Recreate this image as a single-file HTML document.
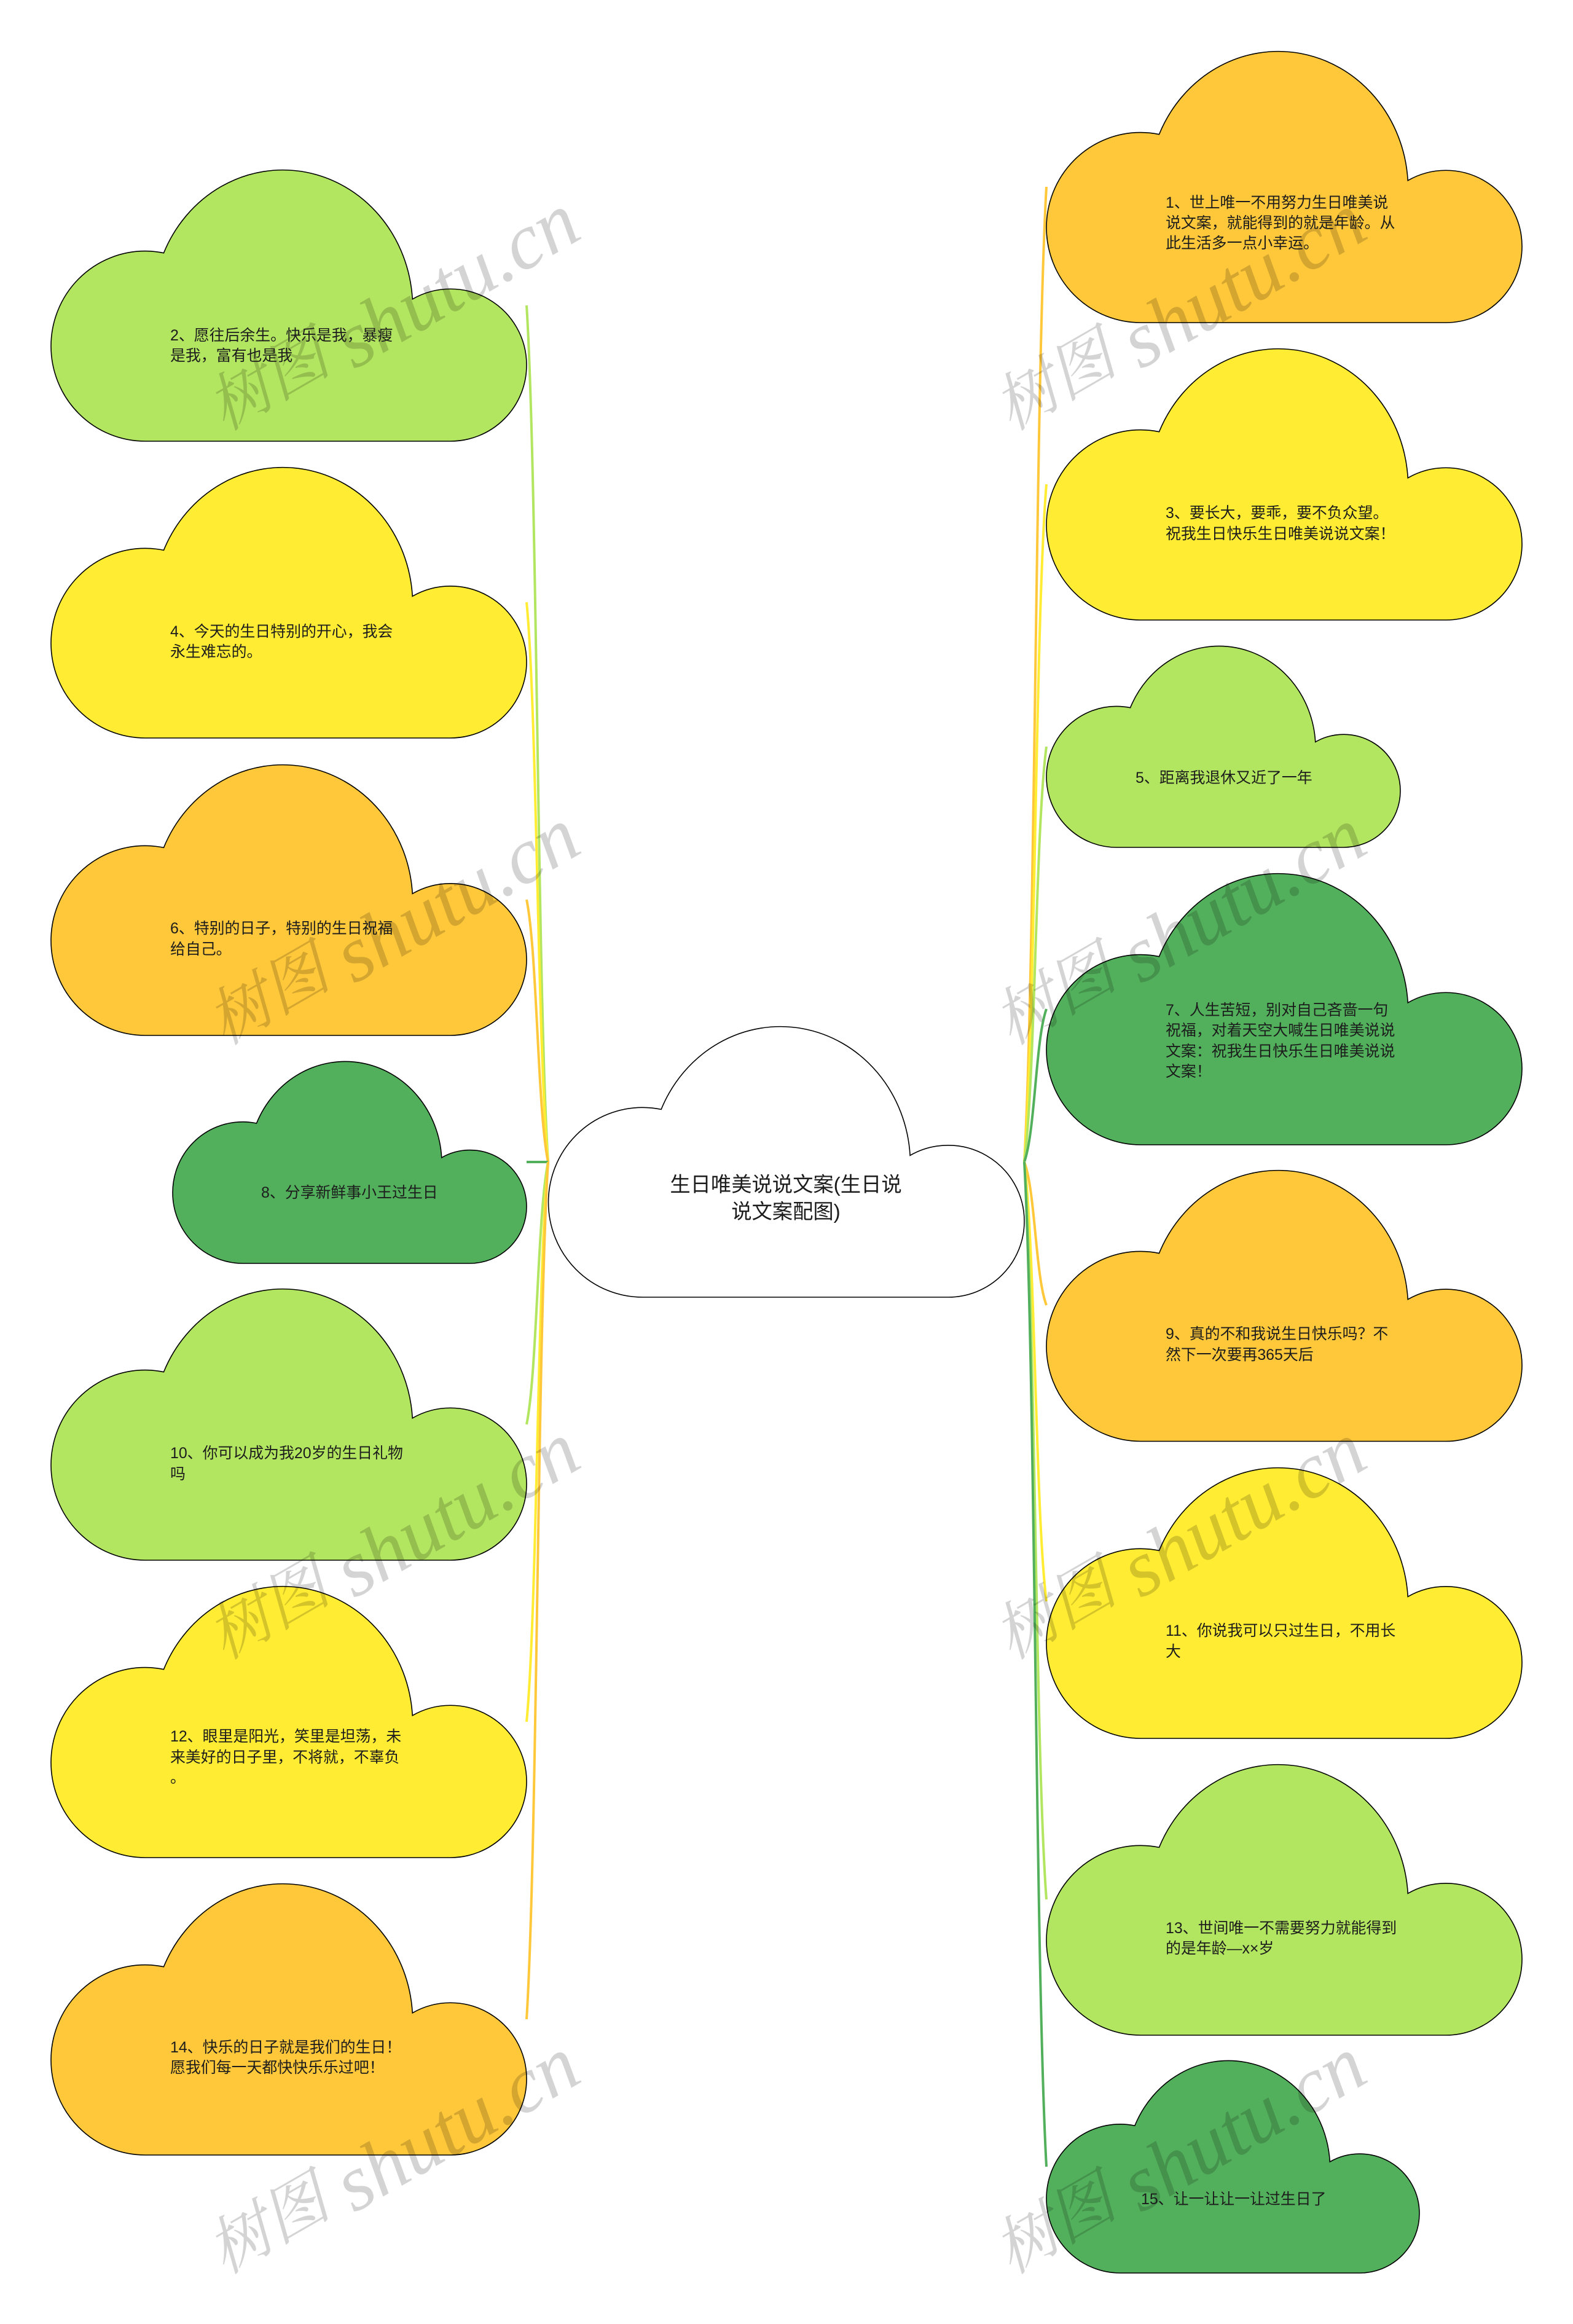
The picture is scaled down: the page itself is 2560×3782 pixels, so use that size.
<!DOCTYPE html>
<html lang="zh-CN">
<head>
<meta charset="utf-8">
<title>生日唯美说说文案(生日说说文案配图)</title>
<style>
html,body{margin:0;padding:0;background:#fff;width:2560px;height:3782px;overflow:hidden}
svg{display:block}
.n{vector-effect:non-scaling-stroke;stroke:#000;stroke-width:1.6}
.t{font-family:"Liberation Sans","Noto Sans CJK SC",sans-serif;font-size:24.9px;fill:#1c1c1c}
.r{font-family:"Liberation Sans","Noto Sans CJK SC",sans-serif;font-size:33.3px;fill:#1c1c1c;text-anchor:middle}
.l{fill:none;stroke-width:4}
.wa{font-family:"Liberation Serif","Noto Serif CJK SC",serif;font-size:102px;font-style:italic;fill:#000;fill-opacity:.17}
.wb{font-family:"Liberation Serif",serif;font-size:129px;font-style:italic;fill:#000;fill-opacity:.17}
</style>
</head>
<body>
<svg xmlns="http://www.w3.org/2000/svg" width="2560" height="3782" viewBox="0 0 2560 3782">
<rect width="2560" height="3782" fill="#fff"/>

<!-- connectors -->
<g class="l">
<path class="l" stroke="#B2E660" d="M892 1891C874.5 1612 874.5 776 857 497"/>
<path class="l" stroke="#FFEC33" d="M892 1891C874.5 1709 874.5 1162 857 980"/>
<path class="l" stroke="#FFC83A" d="M892 1891C874.5 1806 874.5 1549 857 1464"/>
<path class="l" stroke="#52B05C" d="M892 1891L857 1891"/>
<path class="l" stroke="#B2E660" d="M892 1891C874.5 1976 874.5 2233 857 2318"/>
<path class="l" stroke="#FFEC33" d="M892 1891C874.5 2073 874.5 2620 857 2802"/>
<path class="l" stroke="#FFC83A" d="M892 1891C874.5 2170 874.5 3007 857 3286"/>

<path class="l" stroke="#FFC83A" d="M1667 1891C1685 1574 1685 621 1703 304"/>
<path class="l" stroke="#FFEC33" d="M1667 1891C1685 1670 1685 1009 1703 788"/>
<path class="l" stroke="#B2E660" d="M1667 1891C1685 1756 1685 1350 1703 1215"/>
<path class="l" stroke="#52B05C" d="M1667 1891C1685 1841 1685 1692 1703 1642"/>
<path class="l" stroke="#FFC83A" d="M1667 1891C1685 1938 1685 2077 1703 2124"/>
<path class="l" stroke="#FFEC33" d="M1667 1891C1685 2034 1685 2463 1703 2606"/>
<path class="l" stroke="#B2E660" d="M1667 1891C1685 2131 1685 2851 1703 3091"/>
<path class="l" stroke="#52B05C" d="M1667 1891C1685 2218 1685 3199 1703 3526"/>
</g>

<!-- clouds -->
<defs>
<path id="c" class="n" d="M.237 .307A.273 .507 0 0 1 .76 .477A.16 .28 0 0 1 1 .72A.16 .28 0 0 1 .84 1L.198 1A.198 .35 0 0 1 0 .65A.198 .35 0 0 1 .198 .3A.198 .35 0 0 1 .237 .307Z"/>
</defs>
<use href="#c" fill="#fff" transform="translate(892.5 1670) scale(774.5 441)"/>

<use href="#c" fill="#B2E660" transform="translate(83 276) scale(774 442)"/>
<use href="#c" fill="#FFEC33" transform="translate(83 760) scale(774 441)"/>
<use href="#c" fill="#FFC83A" transform="translate(83 1244) scale(774 441)"/>
<use href="#c" fill="#52B05C" transform="translate(281 1727) scale(576 329)"/>
<use href="#c" fill="#B2E660" transform="translate(83 2097) scale(774 442)"/>
<use href="#c" fill="#FFEC33" transform="translate(83 2581) scale(774 442)"/>
<use href="#c" fill="#FFC83A" transform="translate(83 3065) scale(774 442)"/>

<use href="#c" fill="#FFC83A" transform="translate(1703 83) scale(774 442)"/>
<use href="#c" fill="#FFEC33" transform="translate(1703 567) scale(774 442)"/>
<use href="#c" fill="#B2E660" transform="translate(1703 1051) scale(576 328)"/>
<use href="#c" fill="#52B05C" transform="translate(1703 1421) scale(774 442)"/>
<use href="#c" fill="#FFC83A" transform="translate(1703 1904) scale(774 441.5)"/>
<use href="#c" fill="#FFEC33" transform="translate(1703 2388) scale(774 441)"/>
<use href="#c" fill="#B2E660" transform="translate(1703 2871) scale(774 441)"/>
<use href="#c" fill="#52B05C" transform="translate(1703 3353) scale(607 346)"/>

<!-- watermark -->
<text class="wa" transform="translate(365 702) rotate(-30)">树图</text>
<text class="wb" transform="translate(576 602) rotate(-30)">shutu.cn</text>
<text class="wa" transform="translate(1645 702) rotate(-30)">树图</text>
<text class="wb" transform="translate(1856 602) rotate(-30)">shutu.cn</text>
<text class="wa" transform="translate(365 1702) rotate(-30)">树图</text>
<text class="wb" transform="translate(576 1602) rotate(-30)">shutu.cn</text>
<text class="wa" transform="translate(1645 1702) rotate(-30)">树图</text>
<text class="wb" transform="translate(1856 1602) rotate(-30)">shutu.cn</text>
<text class="wa" transform="translate(365 2702) rotate(-30)">树图</text>
<text class="wb" transform="translate(576 2602) rotate(-30)">shutu.cn</text>
<text class="wa" transform="translate(1645 2702) rotate(-30)">树图</text>
<text class="wb" transform="translate(1856 2602) rotate(-30)">shutu.cn</text>
<text class="wa" transform="translate(365 3702) rotate(-30)">树图</text>
<text class="wb" transform="translate(576 3602) rotate(-30)">shutu.cn</text>
<text class="wa" transform="translate(1645 3702) rotate(-30)">树图</text>
<text class="wb" transform="translate(1856 3602) rotate(-30)">shutu.cn</text>

<!-- labels -->
<text class="r" x="1279" y="1939">生日唯美说说文案(生日说</text>
<text class="r" x="1279" y="1983">说文案配图)</text>

<text class="t" x="277" y="554">2、愿往后余生。快乐是我，暴瘦</text>
<text class="t" x="277" y="587">是我，富有也是我</text>
<text class="t" x="277" y="1036">4、今天的生日特别的开心，我会</text>
<text class="t" x="277" y="1069">永生难忘的。</text>
<text class="t" x="277" y="1519">6、特别的日子，特别的生日祝福</text>
<text class="t" x="277" y="1553">给自己。</text>
<text class="t" x="425" y="1949">8、分享新鲜事小王过生日</text>
<text class="t" x="277" y="2373">10、你可以成为我20岁的生日礼物</text>
<text class="t" x="277" y="2407">吗</text>
<text class="t" x="277" y="2834">12、眼里是阳光，笑里是坦荡，未</text>
<text class="t" x="277" y="2868">来美好的日子里，不将就，不辜负</text>
<text class="t" x="277" y="2901">。</text>
<text class="t" x="277" y="3340">14、快乐的日子就是我们的生日！</text>
<text class="t" x="277" y="3373">愿我们每一天都快快乐乐过吧！</text>

<text class="t" x="1897" y="338">1、世上唯一不用努力生日唯美说</text>
<text class="t" x="1897" y="371">说文案，就能得到的就是年龄。从</text>
<text class="t" x="1897" y="404">此生活多一点小幸运。</text>
<text class="t" x="1897" y="843">3、要长大，要乖，要不负众望。</text>
<text class="t" x="1897" y="877">祝我生日快乐生日唯美说说文案！</text>
<text class="t" x="1848" y="1274">5、距离我退休又近了一年</text>
<text class="t" x="1897" y="1652">7、人生苦短，别对自己吝啬一句</text>
<text class="t" x="1897" y="1685">祝福，对着天空大喊生日唯美说说</text>
<text class="t" x="1897" y="1719">文案：祝我生日快乐生日唯美说说</text>
<text class="t" x="1897" y="1752">文案！</text>
<text class="t" x="1897" y="2179">9、真的不和我说生日快乐吗？不</text>
<text class="t" x="1897" y="2213">然下一次要再365天后</text>
<text class="t" x="1897" y="2662">11、你说我可以只过生日，不用长</text>
<text class="t" x="1897" y="2696">大</text>
<text class="t" x="1897" y="3146">13、世间唯一不需要努力就能得到</text>
<text class="t" x="1897" y="3179">的是年龄—x×岁</text>
<text class="t" x="1857" y="3587">15、让一让让一让过生日了</text>
</svg>
</body>
</html>
